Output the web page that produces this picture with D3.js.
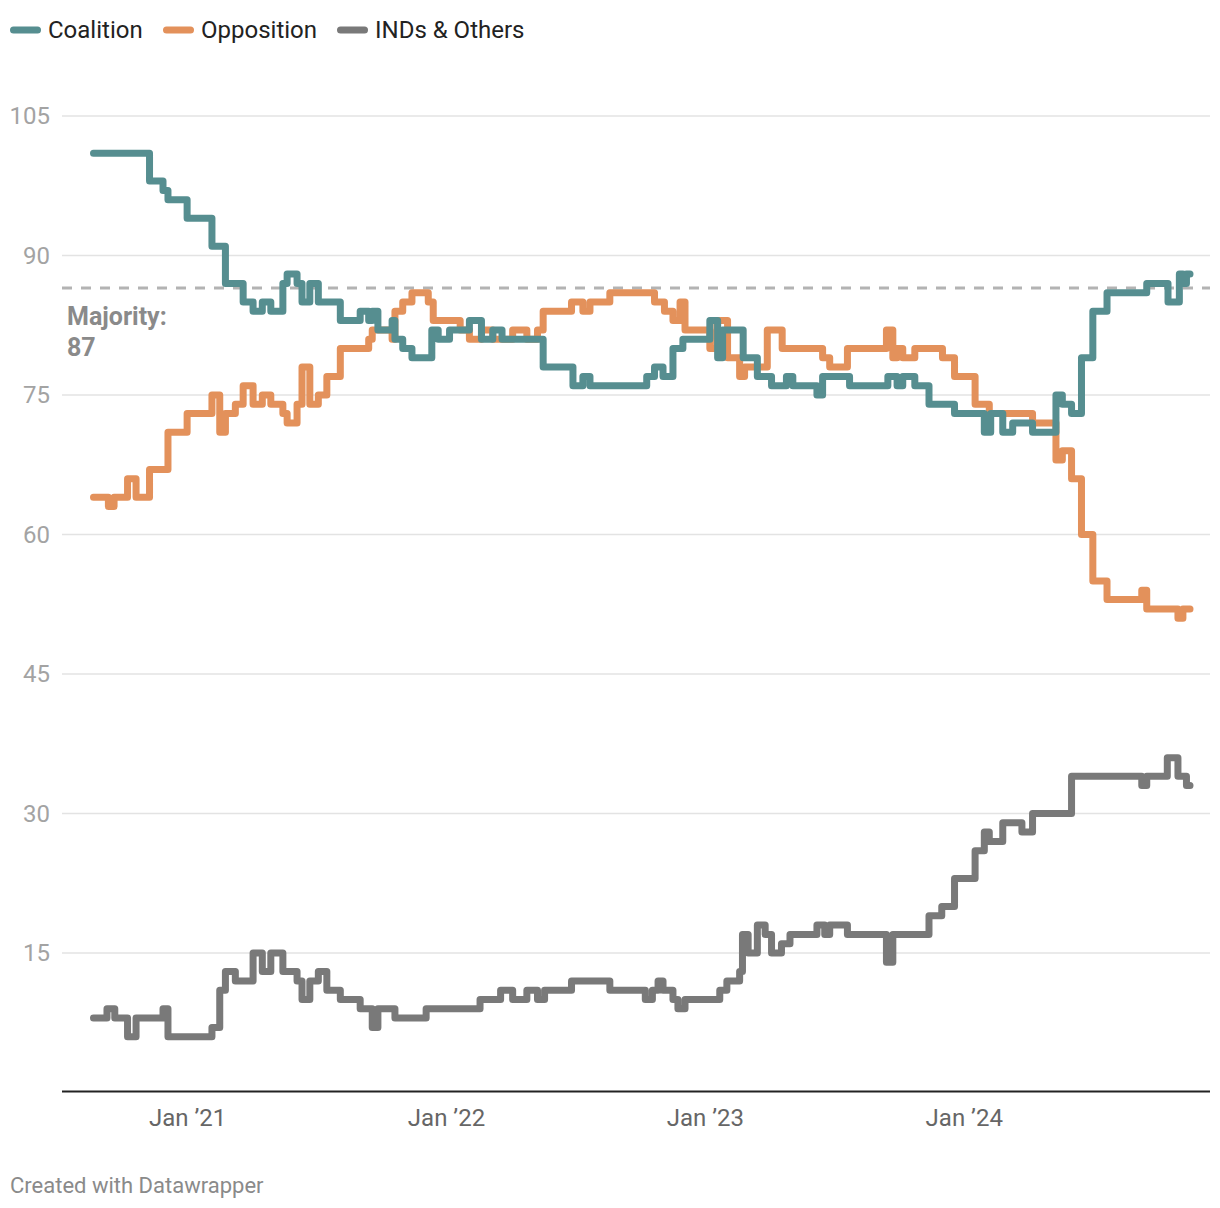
<!DOCTYPE html>
<html>
<head>
<meta charset="utf-8">
<script src="https://cdn.jsdelivr.net/npm/d3@7"></script>
<style>
  html, body { margin: 0; padding: 0; background: #fff; }
  svg { display: block; font-family: Roboto, "Noto Sans", sans-serif; }
</style>
</head>
<body>
<svg id="chart" width="1220" height="1208"></svg>
<script>
// ---- DATA ----
const seriesNames = ["Coalition", "Opposition", "INDs & Others"];
const seriesColors = ["#568e90", "#e3915b", "#797979"];

const coalition = [
  ["2020-08-22",101],["2020-11-09",98],["2020-11-28",97],["2020-12-05",96],
  ["2021-01-01",94],["2021-02-05",91],["2021-02-24",87],["2021-03-21",85],
  ["2021-04-04",84],["2021-04-17",85],["2021-04-29",84],["2021-05-16",87],
  ["2021-05-22",88],["2021-06-05",87],["2021-06-12",85],["2021-06-23",87],
  ["2021-07-05",85],["2021-08-05",83],["2021-09-02",84],["2021-09-14",83],
  ["2021-09-19",84],["2021-09-27",82],["2021-10-17",83],["2021-10-21",81],
  ["2021-11-01",80],["2021-11-14",79],["2021-12-12",82],["2021-12-21",81],
  ["2022-01-06",82],["2022-02-03",83],["2022-02-20",81],["2022-03-08",82],
  ["2022-03-21",81],["2022-05-18",78],["2022-06-29",76],["2022-07-13",77],
  ["2022-07-23",76],["2022-10-11",77],["2022-10-22",78],["2022-11-03",77],
  ["2022-11-17",80],["2022-12-01",81],["2023-01-08",83],
  ["2023-01-19",79],["2023-01-26",82],["2023-02-24",79],["2023-03-16",77],
  ["2023-04-05",76],["2023-04-26",77],["2023-05-05",76],["2023-06-08",75],
  ["2023-06-16",77],["2023-07-24",76],["2023-09-16",77],["2023-09-29",76],
  ["2023-10-07",77],["2023-10-24",76],["2023-11-13",74],["2023-12-19",73],
  ["2024-01-30",71],["2024-02-08",73],["2024-02-25",71],["2024-03-10",72],
  ["2024-04-07",71],["2024-05-10",75],["2024-05-19",74],["2024-06-01",73],
  ["2024-06-15",79],["2024-07-01",84],["2024-07-21",86],["2024-09-15",87],
  ["2024-10-15",85],["2024-10-31",88],["2024-11-05",87],["2024-11-10",88],
  ["2024-11-15",88]
];

const opposition = [
  ["2020-08-22",64],["2020-09-12",63],["2020-09-20",64],["2020-10-09",66],
  ["2020-10-21",64],["2020-11-09",67],["2020-12-05",71],["2021-01-01",73],
  ["2021-02-05",75],["2021-02-16",71],["2021-02-24",73],["2021-03-10",74],
  ["2021-03-21",76],["2021-04-04",74],["2021-04-17",75],["2021-04-29",74],
  ["2021-05-16",73],["2021-05-22",72],["2021-06-05",74],["2021-06-12",78],
  ["2021-06-23",74],["2021-07-05",75],["2021-07-17",77],["2021-08-05",80],
  ["2021-09-14",81],["2021-09-19",82],["2021-10-17",81],["2021-10-21",84],
  ["2021-11-01",85],["2021-11-14",86],["2021-12-07",85],["2021-12-14",83],
  ["2022-01-21",82],["2022-02-03",81],["2022-02-20",82],["2022-03-08",81],
  ["2022-04-05",82],["2022-04-25",81],["2022-05-10",82],["2022-05-18",84],
  ["2022-06-27",85],["2022-07-13",84],["2022-07-23",85],["2022-08-20",86],
  ["2022-10-22",85],["2022-11-05",84],["2022-11-17",83],["2022-11-27",85],
  ["2022-12-04",82],["2023-01-08",80],["2023-01-18",83],["2023-02-02",79],
  ["2023-02-19",77],["2023-02-26",78],["2023-03-30",82],["2023-04-20",80],
  ["2023-06-16",79],["2023-06-26",78],["2023-07-21",80],["2023-09-14",82],
  ["2023-09-23",79],["2023-09-29",80],["2023-10-07",79],["2023-10-24",80],
  ["2023-12-02",79],["2023-12-19",77],["2024-01-17",74],["2024-02-06",73],
  ["2024-04-07",72],["2024-05-10",68],["2024-05-19",69],["2024-06-01",66],
  ["2024-06-15",60],["2024-07-01",55],["2024-07-21",53],["2024-09-08",54],
  ["2024-09-15",52],["2024-10-29",51],["2024-11-05",52],["2024-11-15",52]
];

const others = [
  ["2020-08-22",8],["2020-09-10",9],["2020-09-21",8],["2020-10-09",6],
  ["2020-10-21",8],["2020-11-28",9],["2020-12-05",6],["2021-02-05",7],
  ["2021-02-16",11],["2021-02-24",13],["2021-03-10",12],["2021-04-04",15],
  ["2021-04-17",13],["2021-04-29",15],["2021-05-16",13],["2021-06-05",12],
  ["2021-06-12",10],["2021-06-23",12],["2021-07-05",13],["2021-07-17",11],
  ["2021-08-05",10],["2021-09-02",9],["2021-09-19",7],["2021-09-27",9],
  ["2021-10-21",8],["2021-12-04",9],["2022-02-18",10],["2022-03-19",11],
  ["2022-04-05",10],["2022-04-25",11],["2022-05-10",10],["2022-05-20",11],
  ["2022-06-27",12],["2022-08-20",11],["2022-10-09",10],["2022-10-19",11],
  ["2022-10-27",12],["2022-11-03",11],["2022-11-17",10],["2022-11-24",9],
  ["2022-12-04",10],["2023-01-22",11],["2023-02-01",12],["2023-02-19",13],
  ["2023-02-23",17],["2023-03-03",15],["2023-03-16",18],["2023-03-27",17],
  ["2023-04-05",15],["2023-04-19",16],["2023-05-01",17],["2023-06-08",18],
  ["2023-06-19",17],["2023-06-26",18],["2023-07-21",17],["2023-09-14",14],
  ["2023-09-23",17],["2023-11-13",19],["2023-12-01",20],["2023-12-19",23],
  ["2024-01-17",26],["2024-01-30",28],["2024-02-06",27],["2024-02-25",29],
  ["2024-03-23",28],["2024-04-07",30],["2024-06-01",34],["2024-09-08",33],
  ["2024-09-15",34],["2024-10-14",36],["2024-10-29",34],["2024-11-10",33],
  ["2024-11-15",33]
];

const yTicks = [15, 30, 45, 60, 75, 90, 105];
const xTickDates = ["2021-01-01", "2022-01-01", "2023-01-01", "2024-01-01"];
const xTickLabels = ["Jan \u201921", "Jan \u201922", "Jan \u201923", "Jan \u201924"];
const majority = 86.5;
const majorityLabel = ["Majority:", "87"];
const footer = "Created with Datawrapper";

// ---- CHART ----
const parse = d3.utcParse("%Y-%m-%d");
const svg = d3.select("#chart");

const x = d3.scaleUtc()
  .domain([parse("2020-08-22"), parse("2024-11-15")])
  .range([93.5, 1190]);
const y = d3.scaleLinear().domain([0, 105]).range([1092.5, 116]);

const gridLeft = 62, gridRight = 1210;

// gridlines
const grid = svg.append("g");
grid.selectAll("line").data(yTicks).join("line")
  .attr("x1", gridLeft).attr("x2", gridRight)
  .attr("y1", d => y(d)).attr("y2", d => y(d))
  .attr("stroke", "#e3e3e3").attr("stroke-width", 1.5);
grid.selectAll("text").data(yTicks).join("text")
  .attr("x", 50).attr("y", d => y(d))
  .attr("dy", "0.35em")
  .attr("text-anchor", "end")
  .attr("fill", "#a3a3a3")
  .attr("font-size", 24)
  .text(d => d);

// majority line
svg.append("line")
  .attr("x1", gridLeft).attr("x2", gridRight)
  .attr("y1", y(majority)).attr("y2", y(majority))
  .attr("stroke", "#b3b3b3").attr("stroke-width", 3)
  .attr("stroke-dasharray", "10,9");
svg.append("text")
  .attr("x", 67).attr("y", 325)
  .attr("fill", "#8a8a8a").attr("font-size", 25).attr("font-weight", 700)
  .selectAll("tspan").data(majorityLabel).join("tspan")
  .attr("x", 67).attr("dy", (d, i) => i === 0 ? 0 : 31)
  .text(d => d);

// x axis
const xAxis = d3.axisBottom(x)
  .tickValues(xTickDates.map(parse))
  .tickFormat((d, i) => xTickLabels[i])
  .tickSize(0).tickPadding(16);
const ax = svg.append("g").attr("transform", `translate(0,${y(0)})`).call(xAxis);
ax.select(".domain").remove();
ax.selectAll("text").attr("fill", "#666").attr("font-size", 24)
  .attr("font-family", "Roboto, sans-serif");
svg.append("line")
  .attr("x1", gridLeft).attr("x2", gridRight)
  .attr("y1", y(0) - 1).attr("y2", y(0) - 1)
  .attr("stroke", "#222").attr("stroke-width", 2);

// lines
const line = d3.line()
  .x(d => x(parse(d[0])))
  .y(d => y(d[1]))
  .curve(d3.curveStepAfter);

const allSeries = [others, opposition, coalition];
const colorsFor = [seriesColors[2], seriesColors[1], seriesColors[0]];
svg.append("g").selectAll("path").data(allSeries).join("path")
  .attr("d", d => line(d))
  .attr("fill", "none")
  .attr("stroke", (d, i) => colorsFor[i])
  .attr("stroke-width", 7)
  .attr("stroke-linejoin", "round")
  .attr("stroke-linecap", "round");

// legend
const legendX = [10, 163, 337];
const leg = svg.append("g").selectAll("g").data(seriesNames).join("g")
  .attr("transform", (d, i) => `translate(${legendX[i]},30)`);
leg.append("line").attr("x1", 3.5).attr("x2", 27.5).attr("y1", 0).attr("y2", 0)
  .attr("stroke", (d, i) => seriesColors[i]).attr("stroke-width", 7)
  .attr("stroke-linecap", "round");
leg.append("text").attr("x", 38).attr("y", 0).attr("dy", "0.35em")
  .attr("fill", "#222").attr("font-size", 24).text(d => d);

// footer
svg.append("text").attr("x", 10).attr("y", 1193)
  .attr("fill", "#8a8a8a").attr("font-size", 22).text(footer);
</script>
</body>
</html>
